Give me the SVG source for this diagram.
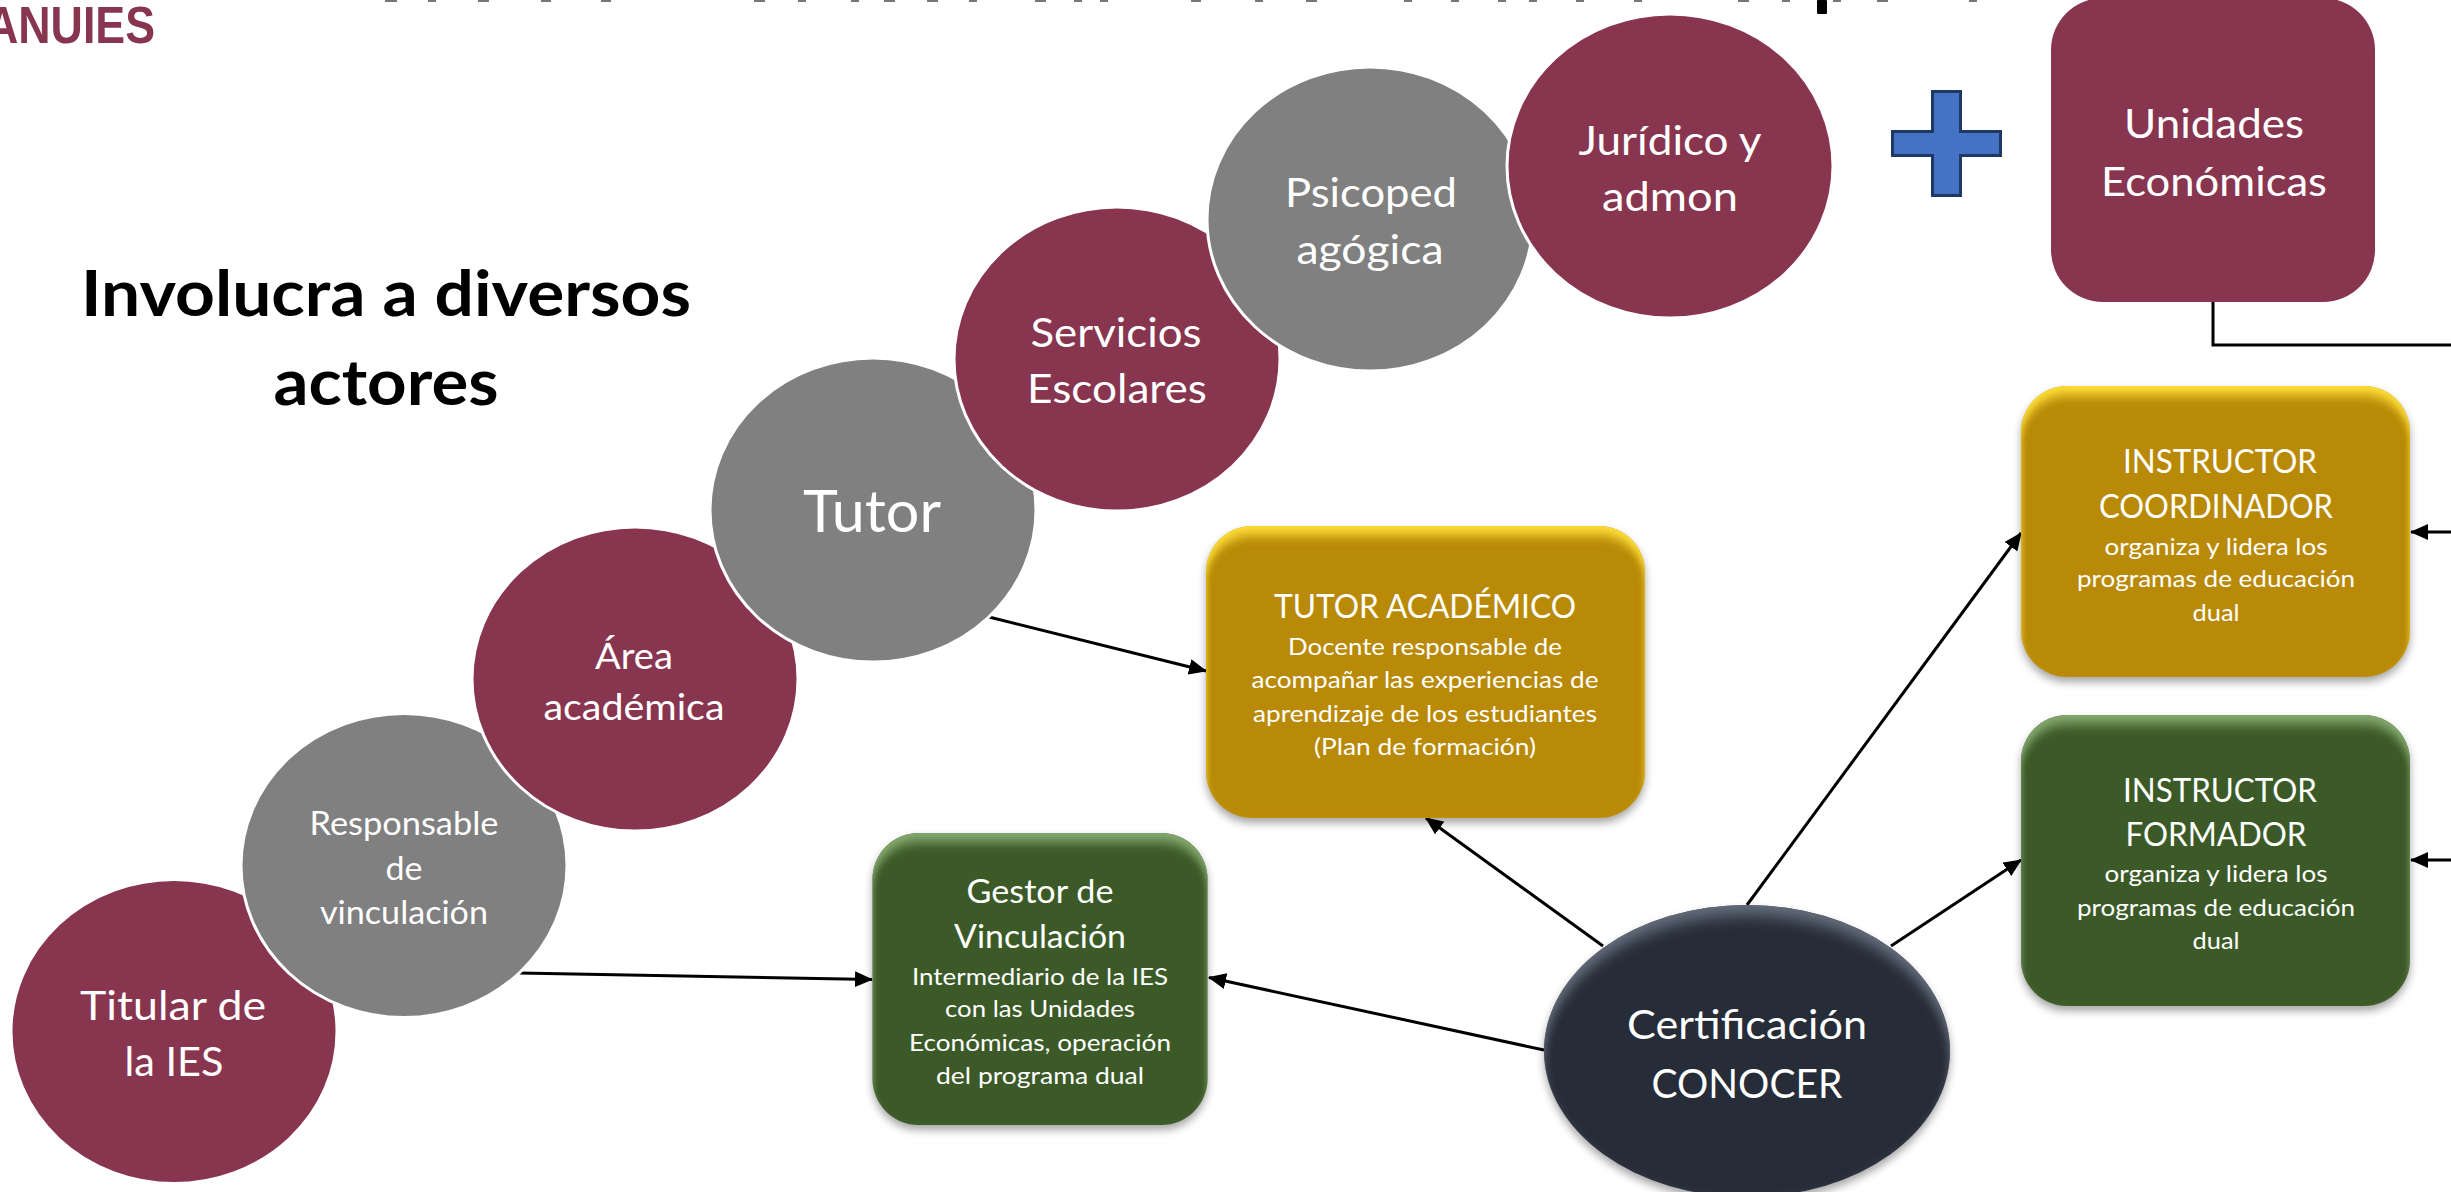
<svg xmlns="http://www.w3.org/2000/svg" width="2451" height="1192" viewBox="0 0 2451 1192">
<style>
text{font-family:Lato,"Liberation Sans",sans-serif;fill:#fff;text-anchor:middle}
.maroon{fill:#88354f;stroke:#fff;stroke-width:3}
.grey{fill:#808080;stroke:#fff;stroke-width:3}
.f41{font-size:41px}.f33{font-size:33px}.f38{font-size:37px}.f58{font-size:58px}.f32{font-size:32px}.f24{font-size:24px}
.head{font-size:64px;font-weight:700;fill:#000}
.line{fill:none;stroke:#000;stroke-width:3}
.arr{marker-end:url(#tip)}
.speck{fill:#777}
</style>
<defs>
<marker id="tip" markerUnits="userSpaceOnUse" markerWidth="18" markerHeight="16" refX="17" refY="8" orient="auto"><path d="M0 0L18 8L0 16Z" fill="#000"/></marker>
<filter id="bevY" x="-6%" y="-6%" width="112%" height="116%" color-interpolation-filters="sRGB">
<feGaussianBlur in="SourceAlpha" stdDeviation="3 6" result="b"/><feOffset in="b" dy="9" result="o"/><feComposite in="SourceAlpha" in2="o" operator="out" result="rim"/>
<feFlood flood-color="#ffdf3a"/><feComposite in2="rim" operator="in" result="hl"/>
<feGaussianBlur in="SourceAlpha" stdDeviation="4" result="s0"/><feOffset in="s0" dy="5" result="s1"/><feFlood flood-color="#000" flood-opacity=".35"/><feComposite in2="s1" operator="in" result="sh"/>
<feMerge><feMergeNode in="sh"/><feMergeNode in="SourceGraphic"/><feMergeNode in="hl"/></feMerge>
</filter>
<filter id="bevG" x="-6%" y="-6%" width="112%" height="116%" color-interpolation-filters="sRGB">
<feGaussianBlur in="SourceAlpha" stdDeviation="3 6" result="b"/><feOffset in="b" dy="9" result="o"/><feComposite in="SourceAlpha" in2="o" operator="out" result="rim"/>
<feFlood flood-color="#86ab70"/><feComposite in2="rim" operator="in" result="hl"/>
<feGaussianBlur in="SourceAlpha" stdDeviation="4" result="s0"/><feOffset in="s0" dy="5" result="s1"/><feFlood flood-color="#000" flood-opacity=".35"/><feComposite in2="s1" operator="in" result="sh"/>
<feMerge><feMergeNode in="sh"/><feMergeNode in="SourceGraphic"/><feMergeNode in="hl"/></feMerge>
</filter>
<filter id="bevD" x="-6%" y="-6%" width="112%" height="116%" color-interpolation-filters="sRGB">
<feGaussianBlur in="SourceAlpha" stdDeviation="4 8" result="b"/><feOffset in="b" dy="10" result="o"/><feComposite in="SourceAlpha" in2="o" operator="out" result="rim"/>
<feFlood flood-color="#67707e"/><feComposite in2="rim" operator="in" result="hl"/>
<feGaussianBlur in="SourceAlpha" stdDeviation="4" result="s0"/><feOffset in="s0" dy="5" result="s1"/><feFlood flood-color="#000" flood-opacity=".35"/><feComposite in2="s1" operator="in" result="sh"/>
<feMerge><feMergeNode in="sh"/><feMergeNode in="SourceGraphic"/><feMergeNode in="hl"/></feMerge>
</filter>
</defs>
<rect width="2451" height="1192" fill="#fff"/>

<g id="title-remnant">
<rect class="speck" x="385" y="0" width="12" height="2"/><rect class="speck" x="428" y="0" width="8" height="2"/><rect class="speck" x="478" y="0" width="11" height="2"/><rect class="speck" x="541" y="0" width="10" height="2"/><rect class="speck" x="601" y="0" width="10" height="2"/><rect class="speck" x="754" y="0" width="11" height="2"/><rect class="speck" x="798" y="0" width="8" height="2"/><rect class="speck" x="851" y="0" width="8" height="2"/><rect class="speck" x="884" y="0" width="11" height="2"/><rect class="speck" x="927" y="0" width="11" height="2"/><rect class="speck" x="969" y="0" width="8" height="2"/><rect class="speck" x="1035" y="0" width="11" height="2"/><rect class="speck" x="1074" y="0" width="8" height="2"/><rect class="speck" x="1100" y="0" width="8" height="2"/><rect class="speck" x="1191" y="0" width="10" height="2"/><rect class="speck" x="1255" y="0" width="8" height="2"/><rect class="speck" x="1306" y="0" width="11" height="2"/><rect class="speck" x="1404" y="0" width="8" height="2"/><rect class="speck" x="1451" y="0" width="8" height="2"/><rect class="speck" x="1498" y="0" width="8" height="2"/><rect class="speck" x="1529" y="0" width="8" height="2"/><rect class="speck" x="1576" y="0" width="8" height="2"/><rect class="speck" x="1634" y="0" width="8" height="2"/><rect class="speck" x="1738" y="0" width="11" height="2"/><rect class="speck" x="1782" y="0" width="8" height="2"/><rect x="1817" y="0" width="10" height="14" rx="1" fill="#000"/><rect class="speck" x="1833" y="0" width="8" height="2"/><rect class="speck" x="1877" y="0" width="11" height="2"/><rect class="speck" x="1969" y="0" width="8" height="2"/>
</g>

<g id="logo-text"><text x="155" y="43" style="text-anchor:end;font-family:'Liberation Sans',Arial,sans-serif;font-weight:700;font-size:52px;fill:#88354f" textLength="169" lengthAdjust="spacingAndGlyphs">ANUIES</text></g>

<g id="heading">
<text class="head" x="386" y="316" textLength="610" lengthAdjust="spacingAndGlyphs">Involucra a diversos</text>
<text class="head" x="386" y="405" textLength="225" lengthAdjust="spacingAndGlyphs">actores</text>
</g>

<g id="connectors">
<path class="line arr" d="M519 973L872 979.5"/>
<path class="line arr" d="M989 617L1206 671"/>
<path class="line arr" d="M1544 1050L1209 977.5"/>
<path class="line arr" d="M1603 946L1426 818"/>
<path class="line arr" d="M1747 905L2021 533"/>
<path class="line arr" d="M1891 946L2021 860"/>
<path class="line arr" d="M2451 532L2411 532"/>
<path class="line arr" d="M2451 860L2411 860"/>
<path class="line" d="M2213 302V345H2451"/>
</g>

<g id="titular"><ellipse class="maroon" cx="174" cy="1031.5" rx="163" ry="152"/>
<text class="f41" x="173" y="1019.5" textLength="186" lengthAdjust="spacingAndGlyphs">Titular de</text>
<text class="f41" x="174" y="1075.5" textLength="99" lengthAdjust="spacingAndGlyphs">la IES</text></g>
<g id="responsable"><ellipse class="grey" cx="404" cy="865.5" rx="163" ry="152"/>
<text class="f33" x="404" y="835" textLength="189" lengthAdjust="spacingAndGlyphs">Responsable</text>
<text class="f33" x="404" y="880" textLength="37" lengthAdjust="spacingAndGlyphs">de</text>
<text class="f33" x="404" y="924" textLength="168" lengthAdjust="spacingAndGlyphs">vinculación</text></g>
<g id="area"><ellipse class="maroon" cx="635" cy="679" rx="163" ry="152"/>
<text class="f38" x="634" y="669" textLength="78" lengthAdjust="spacingAndGlyphs">Área</text>
<text class="f38" x="634" y="720" textLength="181" lengthAdjust="spacingAndGlyphs">académica</text></g>
<g id="tutor"><ellipse class="grey" cx="873" cy="510" rx="163" ry="152"/>
<text class="f58" x="872" y="532" textLength="138" lengthAdjust="spacingAndGlyphs">Tutor</text></g>
<g id="servicios"><ellipse class="maroon" cx="1117" cy="359" rx="163" ry="152"/>
<text class="f41" x="1116" y="347" textLength="171" lengthAdjust="spacingAndGlyphs">Servicios</text>
<text class="f41" x="1117" y="403" textLength="180" lengthAdjust="spacingAndGlyphs">Escolares</text></g>
<g id="psicopedagogica"><ellipse class="grey" cx="1370" cy="219" rx="163" ry="152"/>
<text class="f41" x="1371" y="207" textLength="172" lengthAdjust="spacingAndGlyphs">Psicoped</text>
<text class="f41" x="1370" y="264" textLength="147" lengthAdjust="spacingAndGlyphs">agógica</text></g>
<g id="juridico"><ellipse class="maroon" cx="1670" cy="166" rx="163" ry="152"/>
<text class="f41" x="1670" y="155" textLength="183" lengthAdjust="spacingAndGlyphs">Jurídico y</text>
<text class="f41" x="1670" y="211" textLength="136" lengthAdjust="spacingAndGlyphs">admon</text></g>

<g id="plus"><path d="M1932.5 91.5H1960.5V131.5H2000.5V155.5H1960.5V195.5H1932.5V155.5H1892.5V131.5H1932.5Z" fill="#4472c4" stroke="#1f3864" stroke-width="3"/></g>

<g id="unidades"><rect x="2051" y="-2" width="324" height="304" rx="52" fill="#88354f"/>
<text class="f41" x="2214" y="138" textLength="180" lengthAdjust="spacingAndGlyphs">Unidades</text>
<text class="f41" x="2214" y="196" textLength="226" lengthAdjust="spacingAndGlyphs">Económicas</text></g>

<g id="tutor-academico"><rect x="1206" y="526" width="439" height="292" rx="46" fill="#b98a07" filter="url(#bevY)"/>
<text class="f32" x="1425" y="618" textLength="302" lengthAdjust="spacingAndGlyphs">TUTOR ACADÉMICO</text>
<text class="f24" x="1425" y="654.5" textLength="274" lengthAdjust="spacingAndGlyphs">Docente responsable de</text>
<text class="f24" x="1425" y="687.5" textLength="347" lengthAdjust="spacingAndGlyphs">acompañar las experiencias de</text>
<text class="f24" x="1425" y="721.5" textLength="344" lengthAdjust="spacingAndGlyphs">aprendizaje de los estudiantes</text>
<text class="f24" x="1425" y="754.5" textLength="222" lengthAdjust="spacingAndGlyphs">(Plan de formación)</text></g>

<g id="gestor"><rect x="872.5" y="833" width="335" height="292" rx="46" fill="#3c5a28" filter="url(#bevG)"/>
<text class="f32" x="1040" y="903" textLength="147" lengthAdjust="spacingAndGlyphs">Gestor de</text>
<text class="f32" x="1040" y="948" textLength="172" lengthAdjust="spacingAndGlyphs">Vinculación</text>
<text class="f24" x="1040" y="984.5" textLength="256" lengthAdjust="spacingAndGlyphs">Intermediario de la IES</text>
<text class="f24" x="1040" y="1017" textLength="190" lengthAdjust="spacingAndGlyphs">con las Unidades</text>
<text class="f24" x="1040" y="1050.5" textLength="262" lengthAdjust="spacingAndGlyphs">Económicas, operación</text>
<text class="f24" x="1040" y="1083.5" textLength="208" lengthAdjust="spacingAndGlyphs">del programa dual</text></g>

<g id="instructor-coordinador"><rect x="2021" y="386" width="389" height="291" rx="46" fill="#b98a07" filter="url(#bevY)"/>
<text class="f32" x="2220" y="473" textLength="194" lengthAdjust="spacingAndGlyphs">INSTRUCTOR</text>
<text class="f32" x="2216" y="517.5" textLength="234" lengthAdjust="spacingAndGlyphs">COORDINADOR</text>
<text class="f24" x="2216" y="554.5" textLength="223" lengthAdjust="spacingAndGlyphs">organiza y lidera los</text>
<text class="f24" x="2216" y="586.5" textLength="278" lengthAdjust="spacingAndGlyphs">programas de educación</text>
<text class="f24" x="2216" y="620.5" textLength="47" lengthAdjust="spacingAndGlyphs">dual</text></g>

<g id="instructor-formador"><rect x="2021" y="715" width="389" height="291" rx="46" fill="#3c5a28" filter="url(#bevG)"/>
<text class="f32" x="2220" y="801.5" textLength="194" lengthAdjust="spacingAndGlyphs">INSTRUCTOR</text>
<text class="f32" x="2216" y="845.5" textLength="181" lengthAdjust="spacingAndGlyphs">FORMADOR</text>
<text class="f24" x="2216" y="881.5" textLength="223" lengthAdjust="spacingAndGlyphs">organiza y lidera los</text>
<text class="f24" x="2216" y="915.5" textLength="278" lengthAdjust="spacingAndGlyphs">programas de educación</text>
<text class="f24" x="2216" y="948.5" textLength="47" lengthAdjust="spacingAndGlyphs">dual</text></g>

<g id="certificacion"><ellipse cx="1747" cy="1051" rx="203" ry="146" fill="#262c38" filter="url(#bevD)"/>
<text class="f41" x="1747" y="1038.5" textLength="240" lengthAdjust="spacingAndGlyphs">Certificación</text>
<text class="f41" x="1747" y="1097.5" textLength="191" lengthAdjust="spacingAndGlyphs">CONOCER</text></g>
</svg>
